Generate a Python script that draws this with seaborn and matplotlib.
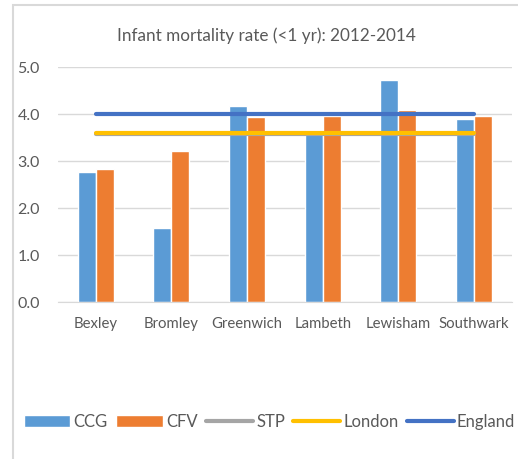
import numpy as np
import pandas as pd
import seaborn as sns
import matplotlib
matplotlib.use("Agg")
from matplotlib import pyplot as plt
from matplotlib.patches import Rectangle, Patch
from matplotlib.lines import Line2D

# chart data
areas = ["Bexley", "Bromley", "Greenwich", "Lambeth", "Lewisham", "Southwark"]
ccg = [2.76, 1.57, 4.17, 3.67, 4.72, 3.90]
cfv = [2.82, 3.21, 3.94, 3.95, 4.09, 3.96]
stp = [3.58, 3.58, 3.58, 3.58, 3.58, 3.58]
london = [3.59, 3.59, 3.59, 3.59, 3.59, 3.59]
england = [3.99, 3.99, 3.99, 3.99, 3.99, 3.99]
title = "Infant mortality rate (<1 yr): 2012-2014"

colors = {"CCG": "#5B9BD5", "CFV": "#ED7D31", "STP": "#A5A5A5",
          "London": "#FFC000", "England": "#4472C4"}
text_color = "#595959"
grid_color = "#D9D9D9"

sns.set_style("white")
plt.rcParams['font.family'] = ['Lato', 'DejaVu Sans']

fig = plt.figure(figsize=(5.18, 4.59), dpi=100)
ax = fig.add_axes([0.112, 0.342, 0.876, 0.512])

# bars
bars = pd.DataFrame({
    "area": areas * 2,
    "value": ccg + cfv,
    "series": ["CCG"] * len(areas) + ["CFV"] * len(areas),
})
sns.barplot(data=bars, x="area", y="value", hue="series", order=areas,
            palette=[colors["CCG"], colors["CFV"]], width=0.476,
            saturation=1, legend=False, ax=ax, zorder=2)

# horizontal reference lines
idx = np.arange(len(areas))
for name, vals in [("STP", stp), ("London", london), ("England", england)]:
    sns.lineplot(x=idx, y=vals, color=colors[name], linewidth=3,
                 solid_capstyle="round", ax=ax, zorder=3)

ax.set_xlim(-0.5, len(areas) - 0.5)
ax.set_ylim(0, 5)
ax.set_yticks([0, 1, 2, 3, 4, 5])
ax.set_yticklabels(["%.1f" % v for v in [0, 1, 2, 3, 4, 5]])
ax.yaxis.grid(True, color=grid_color, linewidth=1, zorder=0)
ax.set_axisbelow(True)
ax.set_xlabel("")
ax.set_ylabel("")
for s in ["top", "right", "left"]:
    ax.spines[s].set_visible(False)
ax.spines["bottom"].set_color(grid_color)
ax.tick_params(axis="y", length=0, pad=13, labelsize=11.5, labelcolor=text_color)
ax.tick_params(axis="x", length=0, pad=11, labelsize=10.7, labelcolor=text_color)

fig.text(0.514, 0.923, title, ha="center", va="center", fontsize=12.3,
         color=text_color)

# legend
handles = [
    Patch(facecolor=colors["CCG"], label="CCG"),
    Patch(facecolor=colors["CFV"], label="CFV"),
    Line2D([], [], color=colors["STP"], linewidth=3, solid_capstyle="round", label="STP"),
    Line2D([], [], color=colors["London"], linewidth=3, solid_capstyle="round", label="London"),
    Line2D([], [], color=colors["England"], linewidth=3, solid_capstyle="round", label="England"),
]
fig.legend(handles=handles, loc="center", bbox_to_anchor=(0.52, 0.081), ncol=5,
           frameon=False, fontsize=12, labelcolor=text_color, handlelength=2.8,
           handleheight=0.7, handletextpad=0.2, columnspacing=0.5)

# chart border
fig.patches.append(Rectangle((13 / 518, -0.1), 1.2, 1 - 5 / 459 + 0.1,
                             transform=fig.transFigure, fill=False,
                             edgecolor=grid_color, linewidth=1.5))

fig.savefig("out.png", dpi=100)
